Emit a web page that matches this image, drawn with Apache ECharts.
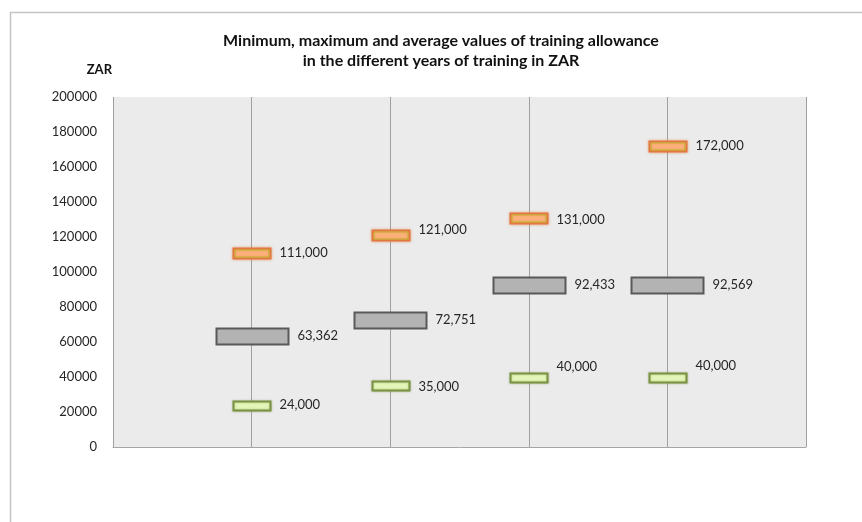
<!DOCTYPE html>
<html>
<head>
<meta charset="utf-8">
<script src="https://cdn.jsdelivr.net/npm/echarts@6/dist/echarts.min.js"></script>
<style>
  html, body { margin: 0; padding: 0; background: #fff; }
  #chart { width: 862px; height: 522px; }
</style>
</head>
<body>
<div id="chart"></div>
<script>
// training years sit at x = 1..4 on a hidden 0..5 axis
const years = [1, 2, 3, 4];
const minValues = [24000, 35000, 40000, 40000];
const maxValues = [111000, 121000, 131000, 172000];
const avgValues = [63362, 72751, 92433, 92569];

const FONT = 'Lato';

// box marker drawn through the axes; a few labels are nudged like in the original
function boxSeries(name, vals, w, h, boxStyle, inner, lift) {
  return {
    name: name,
    type: 'custom',
    data: vals.map((v, i) => [years[i], v]),
    encode: { x: 0, y: 1 },
    renderItem: function (params, api) {
      const c = api.coord([api.value(0), api.value(1)]);
      const x = Math.round(c[0] - w / 2) + 0.5;
      const y = Math.round(c[1] - h / 2) + 0.5;
      const kids = [{
        type: 'rect',
        shape: { x: x, y: y, width: w, height: h },
        style: boxStyle
      }];
      if (inner) {
        kids.push({
          type: 'rect',
          shape: { x: x + 1.5, y: y + 1.5, width: w - 3, height: h - 3 },
          style: { fill: null, stroke: inner, lineWidth: 1 }
        });
      }
      kids.push({
        type: 'text',
        x: x + w + 9,
        y: c[1] + ((lift && lift[params.dataIndex]) || 0),
        style: {
          text: api.value(1).toLocaleString('en-US'),
          fill: '#262626',
          font: '13px ' + FONT,
          verticalAlign: 'middle',
          align: 'left'
        }
      });
      return { type: 'group', children: kids };
    }
  };
}

const chart = echarts.init(document.getElementById('chart'));
chart.setOption({
  backgroundColor: '#fff',
  animation: false,
  graphic: [{
    type: 'rect',
    shape: { x: 10.5, y: 12.5, width: 900, height: 600 },
    style: { fill: 'none', stroke: '#c4c4c4', lineWidth: 1.5 },
    silent: true
  }, {
    type: 'text',
    x: 441,
    y: 31,
    silent: true,
    style: {
      text: 'Minimum, maximum and average values of training allowance\nin the different years of training in ZAR',
      font: 'bold 16px ' + FONT,
      fill: '#111',
      align: 'center',
      lineHeight: 20
    }
  }],
  grid: { left: 113, right: 56, top: 97, bottom: 75, show: true, backgroundColor: '#ebebeb', borderWidth: 0 },
  xAxis: {
    type: 'value',
    min: 0, max: 5, interval: 1,
    axisLabel: { show: false },
    axisTick: { show: false },
    axisLine: { show: true, lineStyle: { color: '#a6a6a6', width: 1 } },
    splitLine: { show: true, lineStyle: { color: '#a0a0a0', width: 1 } }
  },
  yAxis: {
    type: 'value',
    min: 0, max: 200000, interval: 20000,
    name: 'ZAR',
    nameLocation: 'end',
    nameGap: 21,
    nameTextStyle: { fontFamily: FONT, fontSize: 13, fontWeight: 'bold', color: '#111', align: 'right', padding: [0, 1, 0, 0] },
    axisLabel: { color: '#262626', fontFamily: FONT, fontSize: 13, margin: 16, formatter: v => String(v) },
    axisTick: { show: false },
    axisLine: { show: false },
    splitLine: { show: false }
  },
  series: [
    boxSeries('Average', avgValues, 72, 16,
      { fill: '#b3b3b3', stroke: '#595959', lineWidth: 2 }, null, null),
    boxSeries('Maximum', maxValues, 37, 10,
      { fill: '#fbb07a', stroke: '#e2773f', lineWidth: 2, shadowBlur: 3, shadowColor: 'rgba(226,119,63,0.6)' },
      '#bdb52a', [0, -5, 2, 0]),
    boxSeries('Minimum', minValues, 37, 9,
      { fill: '#e4f6b8', stroke: '#7c9245', lineWidth: 2, shadowBlur: 2, shadowColor: 'rgba(124,146,69,0.5)' },
      null, [0, 1, -10, -11])
  ]
});
</script>
</body>
</html>
